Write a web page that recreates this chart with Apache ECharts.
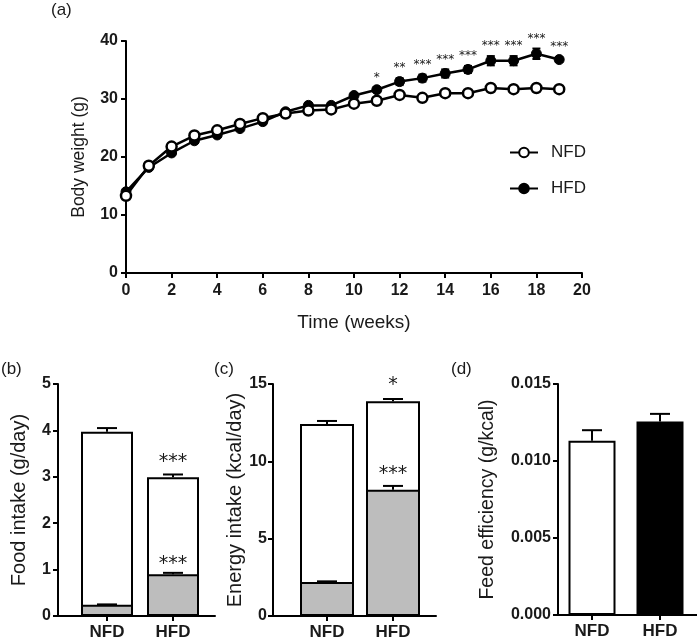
<!DOCTYPE html>
<html><head><meta charset="utf-8">
<script src="https://cdn.jsdelivr.net/npm/echarts@6/dist/echarts.min.js"></script>
<style>html,body{margin:0;padding:0;background:#fff}#c{width:697px;height:642px}</style>
</head><body><div id="c"></div>
<script>
// ---- data ----
const weeks = [0,1,2,3,4,5,6,7,8,9,10,11,12,13,14,15,16,17,18,19];
const nfdWeight = [13.3,18.5,21.8,23.7,24.6,25.7,26.7,27.5,28.0,28.2,29.2,29.7,30.7,30.2,31.0,31.0,31.9,31.7,31.9,31.7];
const hfdWeight = [14.0,18.2,20.7,22.8,23.8,24.9,26.1,27.8,28.9,28.9,30.6,31.6,33.0,33.6,34.4,35.1,36.6,36.6,37.8,36.8];
const nfdWeightErr = [0.3,0.3,0.3,0.3,0.3,0.3,0.3,0.3,0.3,0.3,0.3,0.3,0.3,0.3,0.3,0.3,0.3,0.3,0.3,0.3];
const hfdWeightErr = [0.3,0.3,0.3,0.3,0.3,0.3,0.3,0.3,0.3,0.3,0.4,0.4,0.6,0.6,0.7,0.6,0.8,0.8,0.9,0.4];
const weightStars = ['','','','','','','','','','','','*','**','***','***','***','***','***','***','***'];

const groups = ['NFD','HFD'];
const foodTotal = [3.97, 2.99];
const foodTotalErr = [0.08, 0.06];
const foodFat = [0.24, 0.90];
const foodFatErr = [0.01, 0.03];
const foodStarsTotal = ['', '***'];
const foodStarsFat = ['', '***'];

const energyTotal = [12.41, 13.88];
const energyTotalErr = [0.2, 0.15];
const energyFat = [2.2, 8.16];
const energyFatErr = [0.04, 0.25];
const energyStarsTotal = ['', '*'];
const energyStarsFat = ['', '***'];

const efficiency = [0.01132, 0.01256];
const efficiencyErr = [0.00068, 0.0005];

// ---- helpers ----
const FONT = '"Liberation Sans", Arial, sans-serif';
const STARFONT = '"DejaVu Sans", sans-serif';
const INK = '#1a1a1a';

function errSeries(xAxisIndex, yAxisIndex, xs, vals, errs, halfCap, both, z) {
  return {
    type: 'custom', xAxisIndex, yAxisIndex, z: z || 3, silent: true,
    data: xs.map((x, i) => [x, vals[i], errs[i]]),
    renderItem: function (params, api) {
      const x = api.value(0), v = api.value(1), e = api.value(2);
      const top = api.coord([x, v + e]);
      const bot = api.coord([x, both ? v - e : v]);
      const st = { stroke: '#000', lineWidth: 2 };
      const ch = [
        { type: 'line', shape: { x1: top[0], y1: top[1], x2: bot[0], y2: bot[1] }, style: st },
        { type: 'line', shape: { x1: top[0] - halfCap, y1: top[1], x2: top[0] + halfCap, y2: top[1] }, style: st }
      ];
      if (both) ch.push({ type: 'line', shape: { x1: bot[0] - halfCap, y1: bot[1], x2: bot[0] + halfCap, y2: bot[1] }, style: st });
      return { type: 'group', children: ch };
    }
  };
}

function starSeries(xAxisIndex, yAxisIndex, xs, vals, errs, stars, gap, size) {
  return {
    type: 'custom', xAxisIndex, yAxisIndex, z: 5, silent: true,
    data: xs.map((x, i) => [x, vals[i] + errs[i]]),
    renderItem: function (params, api) {
      const p = api.coord([api.value(0), api.value(1)]);
      return { type: 'text', style: { x: p[0], y: p[1] - gap, text: stars[params.dataIndex], textAlign: 'center', textVerticalAlign: 'bottom', fontSize: size, fontFamily: STARFONT, fill: INK } };
    }
  };
}

const axisLine = { show: true, lineStyle: { color: '#000', width: 2 } };
const axisTick = { show: true, length: 5, lineStyle: { color: '#000', width: 2 } };
const tickLabel = { fontFamily: FONT, fontWeight: 'bold', fontSize: 16, color: INK, margin: 8 };
function nameStyle(size) { return { fontFamily: FONT, fontSize: size, color: INK }; }

// grid 0: weight; 1,2: food (bars, line); 3,4: energy; 5,6: efficiency
const grids = [
  { left: 126, top: 41, width: 456, height: 232 },
  { left: 74, top: 384, width: 132, height: 232 },
  { left: 58, top: 384, width: 157, height: 232 },
  { left: 294, top: 384, width: 132, height: 232 },
  { left: 273, top: 384, width: 163, height: 232 },
  { left: 558, top: 384, width: 136, height: 231 },
  { left: 558, top: 384, width: 145, height: 231 }
];

function catX(gi) {
  return { gridIndex: gi, type: 'category', data: groups, axisLine: { show: false },
    axisTick: Object.assign({ alignWithLabel: true }, axisTick),
    axisLabel: Object.assign({}, tickLabel, { fontSize: 17, margin: 8 }) };
}
function lineX(gi) {
  return { gridIndex: gi, type: 'value', min: 0, max: 1, axisLine: axisLine, axisTick: { show: false }, axisLabel: { show: false }, splitLine: { show: false } };
}
function hiddenY(gi) {
  return { gridIndex: gi, type: 'value', min: 0, max: 1, show: false };
}
const bottomTick = Object.assign({}, tickLabel, { margin: 7 });

const xAxes = [
  { gridIndex: 0, type: 'value', min: 0, max: 20, interval: 2, axisLine, axisTick, splitLine: { show: false },
    axisLabel: Object.assign({}, tickLabel, { margin: 10 }), name: 'Time (weeks)', nameLocation: 'middle', nameGap: 40, nameTextStyle: nameStyle(19) },
  catX(1), lineX(2), catX(3), lineX(4), catX(5), lineX(6)
];
const yAxes = [
  { gridIndex: 0, type: 'value', min: 0, max: 40, interval: 10, axisLine, axisTick, splitLine: { show: false },
    axisLabel: tickLabel, name: 'Body weight (g)', nameLocation: 'middle', nameGap: 38, nameTextStyle: nameStyle(17.5) },
  { gridIndex: 1, type: 'value', min: 0, max: 5, interval: 1, offset: 16, axisLine, axisTick, splitLine: { show: false },
    axisLabel: bottomTick, name: 'Food intake (g/day)', nameLocation: 'middle', nameGap: 29, nameTextStyle: nameStyle(20) },
  hiddenY(2),
  { gridIndex: 3, type: 'value', min: 0, max: 15, interval: 5, offset: 21, axisLine, axisTick, splitLine: { show: false },
    axisLabel: Object.assign({}, bottomTick, { margin: 6 }), name: 'Energy intake (kcal/day)', nameLocation: 'middle', nameGap: 17, nameTextStyle: nameStyle(20) },
  hiddenY(4),
  { gridIndex: 5, type: 'value', min: 0, max: 0.015, interval: 0.005, axisLine, axisTick, splitLine: { show: false },
    axisLabel: Object.assign({}, bottomTick, { formatter: v => v.toFixed(3) }), name: 'Feed efficiency (g/kcal)', nameLocation: 'middle', nameGap: 60, nameTextStyle: nameStyle(19.5) },
  hiddenY(6)
];

const barBorder = { borderColor: '#000', borderWidth: 2 };
const GREY = '#bdbdbd';

const series = [
  // weight
  errSeries(0, 0, weeks, hfdWeight, hfdWeightErr, 4, true, 2),
  { name: 'HFD', type: 'line', xAxisIndex: 0, yAxisIndex: 0, data: weeks.map((w, i) => [w, hfdWeight[i]]),
    symbol: 'circle', symbolSize: 10, lineStyle: { color: '#000', width: 2.5 },
    itemStyle: { color: '#000', borderColor: '#000', borderWidth: 1 }, z: 3 },
  errSeries(0, 0, weeks, nfdWeight, nfdWeightErr, 4, true, 2),
  { name: 'NFD', type: 'line', xAxisIndex: 0, yAxisIndex: 0, data: weeks.map((w, i) => [w, nfdWeight[i]]),
    symbol: 'circle', symbolSize: 10, lineStyle: { color: '#000', width: 2.5 },
    itemStyle: { color: '#fff', borderColor: '#000', borderWidth: 2.5 }, z: 4 },
  starSeries(0, 0, weeks, hfdWeight, hfdWeightErr, weightStars, 4, 12),

  // food intake
  { type: 'bar', xAxisIndex: 1, yAxisIndex: 1, data: foodTotal, barWidth: 52, barGap: '-100%', itemStyle: Object.assign({ color: '#fff' }, barBorder), z: 2 },
  { type: 'bar', xAxisIndex: 1, yAxisIndex: 1, data: foodFat, barWidth: 52, barGap: '-100%', itemStyle: Object.assign({ color: GREY }, barBorder), z: 2 },
  errSeries(1, 1, [0, 1], foodTotal, foodTotalErr, 10, false),
  errSeries(1, 1, [0, 1], foodFat, foodFatErr, 10, false),
  starSeries(1, 1, [0, 1], foodTotal, foodTotalErr, foodStarsTotal, 3, 19),
  starSeries(1, 1, [0, 1], foodFat, foodFatErr, foodStarsFat, -1, 19),

  // energy intake
  { type: 'bar', xAxisIndex: 3, yAxisIndex: 3, data: energyTotal, barWidth: 54, barGap: '-100%', itemStyle: Object.assign({ color: '#fff' }, barBorder), z: 2 },
  { type: 'bar', xAxisIndex: 3, yAxisIndex: 3, data: energyFat, barWidth: 54, barGap: '-100%', itemStyle: Object.assign({ color: GREY }, barBorder), z: 2 },
  errSeries(3, 3, [0, 1], energyTotal, energyTotalErr, 10, false),
  errSeries(3, 3, [0, 1], energyFat, energyFatErr, 10, false),
  starSeries(3, 3, [0, 1], energyTotal, energyTotalErr, energyStarsTotal, 4, 19),
  starSeries(3, 3, [0, 1], energyFat, energyFatErr, energyStarsFat, 2, 19),

  // feed efficiency
  { type: 'bar', xAxisIndex: 5, yAxisIndex: 5, barWidth: 47,
    data: efficiency.map((v, i) => ({ value: v, itemStyle: { color: i === 0 ? '#fff' : '#000' } })),
    itemStyle: barBorder, z: 2 },
  errSeries(5, 5, [0, 1], efficiency, efficiencyErr, 10, false)
];

const chart = echarts.init(document.getElementById('c'), null, { renderer: 'canvas' });
chart.setOption({
  animation: false,
  backgroundColor: '#fff',
  textStyle: { fontFamily: FONT },
  grid: grids,
  xAxis: xAxes,
  yAxis: yAxes,
  legend: { data: ['NFD', 'HFD'], orient: 'vertical', left: 504, top: 139, itemWidth: 28, itemHeight: 12, itemGap: 19,
    textStyle: { fontFamily: FONT, fontSize: 17, color: INK, padding: [0, 0, 0, 8] } },
  series: series,
  graphic: [
    { type: 'text', left: 51, top: 2, style: { text: '(a)', fontFamily: FONT, fontSize: 17, fill: INK } },
    { type: 'text', left: 1, top: 361, style: { text: '(b)', fontFamily: FONT, fontSize: 17, fill: INK } },
    { type: 'text', left: 214, top: 361, style: { text: '(c)', fontFamily: FONT, fontSize: 17, fill: INK } },
    { type: 'text', left: 451, top: 361, style: { text: '(d)', fontFamily: FONT, fontSize: 17, fill: INK } }
  ]
});
</script></body></html>
